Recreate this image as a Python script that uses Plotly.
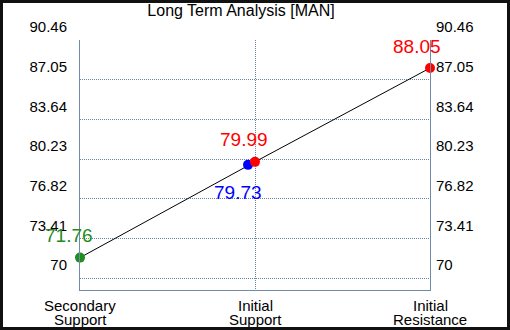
import plotly.graph_objects as go

categories = ["Secondary<br>Support", "Initial<br>Support", "Initial<br>Resistance"]
line_values = [71.76, 79.99, 88.05]
support_label_values = [71.76, 79.73]
tick_values = [70, 73.41, 76.82, 80.23, 83.64, 87.05, 90.46]
tick_labels = ["70", "73.41", "76.82", "80.23", "83.64", "87.05", "90.46"]
title_text = "Long Term Analysis [MAN]"

FONT = "Arial, 'Liberation Sans', sans-serif"
GRID = "#6883a3"
AXIS = "#7189ab"
GREEN = "#228b22"
RED = "#ff0000"
BLUE = "#0000ff"
FRAME = 3

W, H = 510 - 2 * FRAME, 330 - 2 * FRAME
ML, MR, MT, MB = 77, 77, 37, 37

span = tick_values[-1] - tick_values[0]
yrange = [tick_values[0] - 0.05 * span, tick_values[-1]]

xi = list(range(len(categories)))
blue_x = xi[1] - 0.04  # slight visual offset so both dots show

fig = go.Figure()
fig.add_trace(go.Scatter(x=xi, y=line_values, mode="lines", cliponaxis=False,
                         line=dict(color="black", width=1), hoverinfo="skip"))
fig.add_trace(go.Scatter(x=[xi[0]], y=[line_values[0]], mode="markers", cliponaxis=False,
                         marker=dict(color=GREEN, size=10)))
fig.add_trace(go.Scatter(x=[blue_x], y=[support_label_values[1]], mode="markers",
                         cliponaxis=False, marker=dict(color=BLUE, size=10)))
fig.add_trace(go.Scatter(x=[xi[1], xi[2]], y=[line_values[1], line_values[2]], mode="markers",
                         cliponaxis=False, marker=dict(color=RED, size=10)))
fig.add_trace(go.Scatter(x=[xi[0]], y=[line_values[0]], yaxis="y2", mode="markers",
                         marker=dict(opacity=0), hoverinfo="skip"))

ann = [
    (xi[0], line_values[0], f"{line_values[0]:.2f}", GREEN, -11, 22),
    (xi[1], line_values[1], f"{line_values[1]:.2f}", RED, -11, 22),
    (blue_x, support_label_values[1], f"{support_label_values[1]:.2f}", BLUE, -10, -28),
    (xi[2], line_values[2], f"{line_values[2]:.2f}", RED, -13, 22),
]
for x, y, t, c, dx, dy in ann:
    fig.add_annotation(x=x, y=y, text=t, showarrow=False, xshift=dx, yshift=dy,
                       font=dict(family=FONT, size=19, color=c))

# category labels (two tightly spaced lines)
for x, lab in zip(xi, categories):
    for i, part in enumerate(lab.split("<br>")):
        fig.add_annotation(x=x, xref="x", y=0, yref="paper", text=part, showarrow=False,
                           yanchor="middle", yshift=-(15 + 14 * i),
                           font=dict(family=FONT, size=15, color="black"))

yaxis_common = dict(range=yrange, tickvals=tick_values, ticktext=tick_labels,
                    tickfont=dict(family=FONT, size=15, color="black"),
                    zeroline=False, showline=True, linecolor=AXIS, linewidth=1,
                    ticks="", ticklabelshift=-13, automargin=False)

fig.update_layout(
    width=W, height=H,
    margin=dict(l=ML, r=MR, t=MT, b=MB, autoexpand=False),
    paper_bgcolor="white", plot_bgcolor="white",
    showlegend=False,
    title=dict(text=title_text, x=0.46, xref="paper", xanchor="center",
               y=1 - 7 / H, yanchor="middle", yref="container",
               font=dict(family=FONT, size=16, color="black")),
    xaxis=dict(range=[xi[0], xi[-1]], tickvals=xi, showticklabels=False,
               showgrid=True, gridcolor=GRID, griddash="1px,1px", gridwidth=1,
               showline=True, linecolor=AXIS, linewidth=1, zeroline=False, ticks="",
               automargin=False),
    yaxis=dict(**yaxis_common, showgrid=True, gridcolor=GRID, griddash="1px,1px",
               gridwidth=1, side="left", ticklabelstandoff=9),
    yaxis2=dict(**yaxis_common, overlaying="y", matches="y", side="right",
                showgrid=False, ticklabelstandoff=2),
)

fig.write_html(
    "out.html", config={"displayModeBar": False},
    post_script=("document.body.style.margin='%dpx';"
                 "document.documentElement.style.background='#111111';"
                 "document.body.style.background='#111111';"
                 "document.body.style.overflow='hidden';") % FRAME)
